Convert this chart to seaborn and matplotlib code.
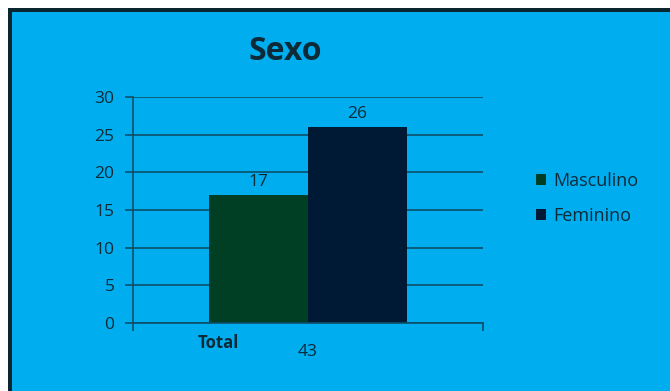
import matplotlib
matplotlib.use('Agg')
import matplotlib.pyplot as plt
import pandas as pd
import seaborn as sns
from matplotlib.patches import Rectangle

# data
categories = ['Total']
series = ['Masculino', 'Feminino']
values = [17, 26]
total_label = '43'

bg = '#00AEEF'
ink = '#0c2a38'
line = '#0d4f68'
colors = ['#013F24', '#001A35']

df = pd.DataFrame({'Categoria': categories * len(series), 'Sexo': series, 'Valor': values})

sns.set_theme(style='white')
plt.rcParams['font.family'] = ['Open Sans', 'DejaVu Sans']

fig = plt.figure(figsize=(6.7, 3.91), dpi=100)
fig.patch.set_facecolor('white')

# background panel: blue with dark top/left border
back = fig.add_axes([0, 0, 1, 1], zorder=-10)
back.set_xlim(0, 670)
back.set_ylim(391, 0)
back.axis('off')
back.add_patch(Rectangle((8, 8), 700, 400, facecolor='#0a2630', edgecolor='none'))
back.add_patch(Rectangle((12, 12), 700, 400, facecolor=bg, edgecolor='none'))

ax = fig.add_axes([133 / 670, 1 - 323 / 391, 350 / 670, 226 / 391])
ax.set_facecolor('none')

sns.barplot(data=df, x='Categoria', y='Valor', hue='Sexo', palette=colors,
            width=0.566, saturation=1, ax=ax, legend=True, linewidth=0)

ax.set_xlim(-0.5, 0.5)
ax.set_ylim(0, 30)
ax.set_yticks(range(0, 31, 5))
ax.yaxis.grid(True, color=line, linewidth=1.2)
ax.set_axisbelow(True)
for s in ['top', 'right']:
    ax.spines[s].set_visible(False)
for s in ['left', 'bottom']:
    ax.spines[s].set_color(line)
    ax.spines[s].set_linewidth(1.2)
ax.tick_params(axis='y', direction='out', length=5.8, width=1.2, color=line,
               labelsize=12.5, labelcolor=ink, left=True, pad=7.5)
ax.set_xticks([-0.5, 0.5])
ax.set_xticklabels([])
ax.tick_params(axis='x', direction='out', length=5.8, width=1.2, color=line, bottom=True)
ax.set_xlabel('')
ax.set_ylabel('')

for c in ax.containers:
    ax.bar_label(c, fmt='%d', padding=3.5, fontsize=12.5, color=ink)

ax.text(0.245, -0.09, categories[0], transform=ax.transAxes, ha='center', va='center',
        fontsize=12, fontweight='bold', color=ink)
ax.text(0.498, -0.13, total_label, transform=ax.transAxes, ha='center', va='center',
        fontsize=12.5, color=ink)

fig.text(285 / 670, 1 - 51 / 391, 'Sexo', ha='center', va='center',
         fontsize=23, fontweight='bold', color=ink)

leg = ax.legend(loc='center left', bbox_to_anchor=(1.105, 0.55), frameon=False,
                handlelength=0.55, handleheight=0.55, handletextpad=0.4,
                labelspacing=0.95, fontsize=13)
for t in leg.get_texts():
    t.set_color(ink)

fig.savefig('out.png', dpi=100, facecolor=fig.get_facecolor())
